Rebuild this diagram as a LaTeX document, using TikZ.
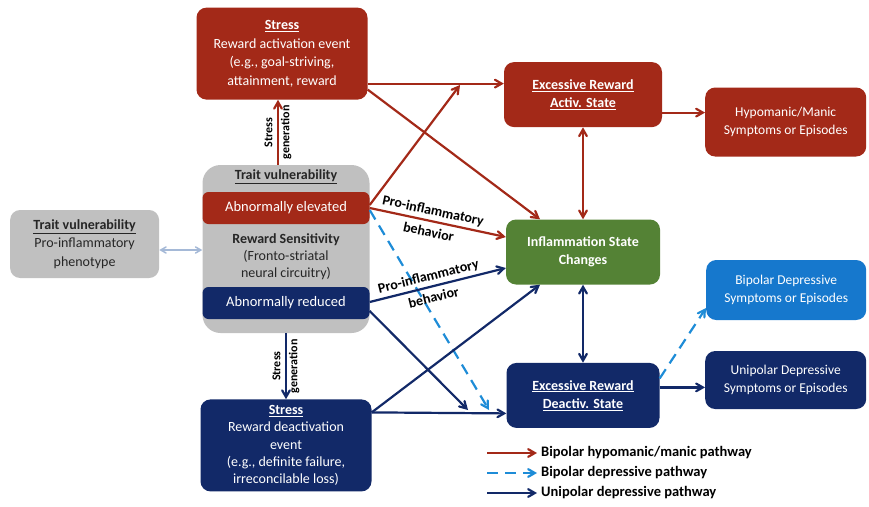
\documentclass[tikz,border=0pt]{standalone}
\usepackage{fontspec}
\setmainfont{Carlito}
\usepackage{xcolor}
\usetikzlibrary{shapes,arrows,positioning,calc}

\definecolor{mania}{RGB}{163,41,24}
\definecolor{unidep}{RGB}{18,41,104}
\definecolor{bidep}{RGB}{22,120,205}
\definecolor{bidepline}{RGB}{30,140,215}
\definecolor{inflam}{RGB}{84,130,53}
\definecolor{traitgray}{RGB}{192,192,192}
\definecolor{phenoline}{RGB}{165,185,215}

\begin{document}
\begin{tikzpicture}[
    x=1pt, y=-1pt,
    box/.style={rectangle, rounded corners=10pt, text=white, align=center, inner sep=2pt, font=\fontsize{14}{18.5}\selectfont},
    sidebox/.style={box, anchor=west, font=\fontsize{13.5}{18}\selectfont},
    graybox/.style={box, fill=traitgray, text=black!85},
    bar/.style={rectangle, rounded corners=6pt, text=white, minimum width=167pt, minimum height=32pt, inner sep=0pt, font=\fontsize{14.5}{18}\selectfont},
    genlabel/.style={midway, rotate=90, align=center, text=black, font=\fontsize{12}{17}\selectfont\bfseries},
    inflabel/.style={pos=0.45, sloped, align=center, text=black, font=\fontsize{14}{22}\selectfont\bfseries},
    legend/.style={anchor=west, inner sep=4pt, text=black, font=\fontsize{14.5}{16}\selectfont\bfseries},
    arrow/.style={->, >=angle 60, line width=2.2pt},
    dbl/.style={<->, >=angle 60, line width=2.2pt},
    dashline/.style={dash pattern=on 11pt off 7pt}
]
\useasboundingbox (0,0) rectangle (869,506);

\node [graybox, minimum width=167pt, minimum height=168pt, rounded corners=18pt] (trait) at (286,249) {};
\node [below=5pt of trait.north, inner sep=0pt, text=black!85, font=\fontsize{14}{18}\selectfont\bfseries] (traittitle) {\underline{Trait vulnerability}};
\node [bar, fill=mania, below=27pt of trait.north] (elevated) {Abnormally elevated};
\node [bar, fill=unidep, above=14pt of trait.south] (reduced) {Abnormally reduced};
\node [below=6pt of elevated, align=center, text=black!85, font=\fontsize{14}{17}\selectfont] (sens) {\textbf{Reward Sensitivity}\\(Fronto-striatal\\neural circuitry)};

\node [box, fill=mania, minimum width=171pt, minimum height=92pt, above=65pt of trait, xshift=-4pt] (stressup) {\textbf{\underline{Stress}}\\Reward activation event\\(e.g., goal-striving,\\attainment, reward};
\node [box, fill=unidep, minimum width=171pt, minimum height=92pt, below=66pt of trait, font=\fontsize{14}{17.2}\selectfont] (stressdown) {\textbf{\underline{Stress}}\\Reward deactivation\\event\\(e.g., definite failure,\\irreconcilable loss)};
\node [graybox, minimum width=149pt, minimum height=68pt, left=43pt of trait, yshift=5pt] (pheno) {\textbf{\underline{Trait vulnerability}}\\Pro-inflammatory\\phenotype};

\node [box, fill=inflam, minimum width=154pt, minimum height=65pt] (inflamm) at (583,252) {\textbf{Inflammation State}\\\textbf{Changes}};
\node [box, fill=mania, minimum width=158pt, minimum height=65pt, above=92pt of inflamm] (activ) {\textbf{\underline{Excessive Reward}}\\\textbf{\underline{Activ. State}}};
\node [box, fill=unidep, minimum width=153pt, minimum height=65pt, below=78pt of inflamm] (deactiv) {\textbf{\underline{Excessive Reward}}\\\textbf{\underline{Deactiv. State}}};
\node [sidebox, fill=mania, minimum width=161pt, minimum height=69pt] (hypo) at (705,122) {Hypomanic/Manic\\Symptoms or Episodes};
\node [sidebox, fill=bidep, minimum width=160pt, minimum height=60pt] (bipolar) at (706,290) {Bipolar Depressive\\Symptoms or Episodes};
\node [sidebox, fill=unidep, minimum width=161pt, minimum height=58pt] (unipolar) at (705,380) {Unipolar Depressive\\Symptoms or Episodes};

\coordinate (genup) at ([xshift=-8pt]trait.north);
\coordinate (s1) at ([yshift=-30pt]stressup.east);
\coordinate (a1) at ([yshift=-18pt]activ.east);
\coordinate (d1) at ([yshift=8pt]deactiv.east);
\coordinate (p1) at ([yshift=-6pt]pheno.east);
\coordinate (elevtip) at (460,85);
\coordinate (dashtip) at (489,410);
\coordinate (redtip) at (468,410);

\draw [arrow, draw=mania] (genup) -- node [genlabel] {Stress\\generation} (genup |- stressup.south);
\draw [arrow, draw=unidep] (trait.south) -- node [genlabel] {Stress\\generation} (stressdown.north);
\draw [dbl, draw=phenoline, line width=1.5pt] (p1) -- (p1 -| trait.west);

\draw [arrow, draw=mania] (s1) -- (s1 -| activ.west);
\draw [arrow, draw=mania] ([yshift=-36pt]stressup.east) -- ([xshift=-43pt]inflamm.north);
\draw [arrow, draw=mania] ([yshift=3pt]elevated.east) -- (elevtip);
\draw [arrow, draw=mania] (elevated.east) -- node [inflabel] {Pro-inflammatory\\behavior} ([yshift=15pt]inflamm.west);
\draw [arrow, draw=bidepline, dashline] ([yshift=-2pt]elevated.east) -- (dashtip);
\draw [arrow, draw=unidep] ([yshift=1pt]reduced.east) -- node [inflabel] {Pro-inflammatory\\behavior} ([yshift=-16pt]inflamm.west);
\draw [arrow, draw=unidep] ([yshift=-8pt]reduced.east) -- (redtip);
\draw [arrow, draw=unidep] ([yshift=33pt]stressdown.east) -- ([xshift=-43pt]inflamm.south);
\draw [arrow, draw=unidep] ([yshift=33pt]stressdown.east) -- ([yshift=-18pt]deactiv.west);

\draw [dbl, draw=mania] (activ.south) -- (activ.south |- inflamm.north);
\draw [dbl, draw=unidep] (inflamm.south) -- (inflamm.south |- deactiv.north);
\draw [arrow, draw=mania] (a1) -- (a1 -| hypo.west);
\draw [arrow, draw=unidep] (d1) -- (d1 -| unipolar.west);
\draw [arrow, draw=bidepline, dashline] ([yshift=17pt]deactiv.east) -- ([yshift=-18pt]bipolar.west);

\coordinate (lga) at (487,453);
\coordinate (lgb) at (487,473);
\coordinate (lgc) at (487,493);
\node [legend] (lgmania) at (537,453) {Bipolar hypomanic/manic pathway};
\node [legend] (lgbidep) at (537,473) {Bipolar depressive pathway};
\node [legend] (lgunidep) at (537,493) {Unipolar depressive pathway};
\draw [arrow, draw=mania] (lga) -- (lgmania.west);
\draw [arrow, draw=bidepline, dashline] (lgb) -- (lgbidep.west);
\draw [arrow, draw=unidep] (lgc) -- (lgunidep.west);

\end{tikzpicture}
\end{document}
